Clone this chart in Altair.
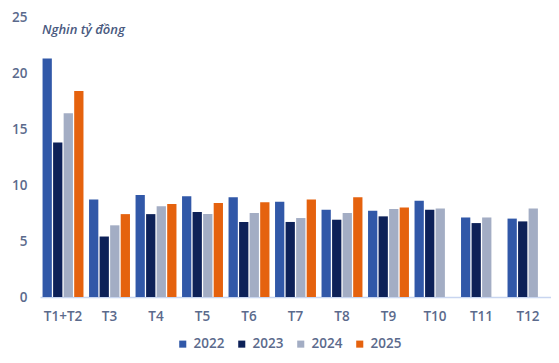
import altair as alt
import pandas as pd

categories = ["T1+T2", "T3", "T4", "T5", "T6", "T7", "T8", "T9", "T10", "T11", "T12"]
years = ["2022", "2023", "2024", "2025"]
v2022 = [21.3, 8.7, 9.1, 9.0, 8.9, 8.5, 7.8, 7.7, 8.6, 7.1, 7.0]
v2023 = [13.8, 5.4, 7.4, 7.6, 6.7, 6.7, 6.9, 7.2, 7.8, 6.6, 6.75]
v2024 = [16.4, 6.4, 8.1, 7.4, 7.5, 7.05, 7.5, 7.85, 7.9, 7.1, 7.9]
v2025 = [18.4, 7.4, 8.3, 8.4, 8.45, 8.7, 8.9, 8.0, None, None, None]
colors = ["#3158A8", "#0D2158", "#A3ADC4", "#E5620E"]

rows = []
for yr, vals in zip(years, [v2022, v2023, v2024, v2025]):
    for c, v in zip(categories, vals):
        if v is not None:
            rows.append({"cat": c, "year": yr, "value": v})
df = pd.DataFrame(rows)

label_color = "#5B6A8C"
font = "Open Sans"

chart = alt.Chart(df).mark_bar().encode(
    x=alt.X("cat:N", sort=categories,
            scale=alt.Scale(paddingInner=0.12, paddingOuter=0.055),
            axis=alt.Axis(title=None, labelAngle=0, ticks=False, domainColor="#C8D5F0",
                          domainWidth=1.5, labelPadding=12, labelFontSize=13.5,
                          labelColor=label_color, labelFont=font, labelFontWeight=600)),
    xOffset=alt.XOffset("year:N", sort=years, scale=alt.Scale(paddingInner=0.12)),
    y=alt.Y("value:Q", scale=alt.Scale(domain=[0, 25]),
            axis=alt.Axis(title=None, values=[0, 5, 10, 15, 20, 25], grid=False, domain=False,
                          ticks=False, labelPadding=13, labelFontSize=13.5,
                          labelColor=label_color, labelFont=font, labelFontWeight=600)),
    color=alt.Color("year:N", sort=years,
                    scale=alt.Scale(domain=years, range=colors),
                    legend=alt.Legend(title=None, orient="none", direction="horizontal",
                                      legendX=136, legendY=320, symbolType="square",
                                      symbolSize=50, symbolStrokeWidth=0, labelFontSize=13.5,
                                      labelColor=label_color, labelFont=font,
                                      labelFontWeight=600, columnPadding=10, padding=0,
                                      labelOffset=4)),
).properties(
    width=511,
    height=280,
    title=alt.TitleParams("Nghin tỷ đồng", anchor="start", frame="group", orient="top",
                          offset=-27, dx=2, fontSize=13, fontStyle="italic",
                          fontWeight=600, font=font, color="#4A5A80"),
    autosize=alt.AutoSizeParams(type="none"),
    padding={"left": 32, "top": 9, "right": 0, "bottom": 58},
).configure_view(stroke=None)

chart.save("out.html", embed_options={"renderer": "svg", "actions": False})
